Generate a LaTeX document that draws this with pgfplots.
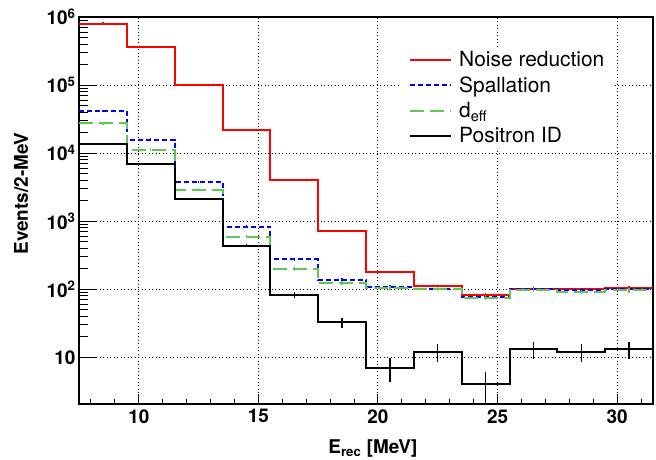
\documentclass[border=0pt]{standalone}
\usepackage{pgfplots}
\pgfplotsset{compat=1.18}
\usepackage{fontspec}
\setmainfont{TeX Gyre Heros}
\definecolor{rred}{RGB}{255,0,0}
\definecolor{bblue}{RGB}{0,0,255}
\definecolor{ggreen}{RGB}{94,200,80}
\begin{document}
\begin{tikzpicture}
\begin{axis}[
  scale only axis,
  width=574bp, height=387bp,
  xmin=7.5, xmax=31.5,
  ymode=log, ymin=2.06, ymax=1e6,
  xtick={10,15,20,25,30},
  xticklabels={10,15,20,25,30},
  minor xtick={8,9,11,12,13,14,16,17,18,19,21,22,23,24,26,27,28,29,31},
  ytick={10,100,1000,10000,100000,1000000},
  yticklabels={10,10\textsuperscript{2},10\textsuperscript{3},10\textsuperscript{4},10\textsuperscript{5},10\textsuperscript{6}},
  tick align=inside,
  xtick pos=bottom, ytick pos=left,
  xtick style={/pgfplots/major tick length=10bp,/pgfplots/minor tick length=5bp, line width=1bp, black},
  ytick style={/pgfplots/major tick length=17bp,/pgfplots/minor tick length=9bp, line width=1bp, black},
  grid=major,
  grid style={black, line width=1bp, dash pattern=on 1bp off 2.5bp},
  axis line style={line width=1.6bp},
  tick label style={font=\bfseries\fontsize{19}{19}\selectfont},
  xticklabel style={yshift=-2bp},
  xlabel={E\textsubscript{rec} [MeV]},
  ylabel={Events/2-MeV},
  label style={font=\bfseries\fontsize{19}{19}\selectfont},
  xlabel style={at={(axis description cs:0.512,-0.128)}, anchor=base},
  ylabel style={at={(axis description cs:-0.101,0.544)}, anchor=center},
  legend style={at={(axis description cs:0.561,0.922)}, anchor=north west,
    draw=none, fill=white, font=\fontsize{21}{25}\selectfont,
    cells={anchor=west}, inner xsep=8bp, inner ysep=2bp, row sep=4.5bp},
  legend image code/.code={\draw[#1] (0bp,0bp) -- (41bp,0bp); \path (46bp,0bp);},
  const plot mark left,
]
\addplot[rred, line width=2bp, mark=none] coordinates {
(7.5,8.0e5) (9.5,3.6e5) (11.5,1.0e5) (13.5,2.2e4) (15.5,4.0e3) (17.5,720)
(19.5,180) (21.5,112) (23.5,83) (25.5,102) (27.5,100) (29.5,105) (31.5,105)};
\addlegendentry{Noise reduction}
\addplot[bblue, line width=2bp, mark=none, dash pattern=on 5bp off 3bp] coordinates {
(7.5,4.2e4) (9.5,1.58e4) (11.5,3.75e3) (13.5,834) (15.5,276) (17.5,138)
(19.5,109) (21.5,102) (23.5,76) (25.5,100) (27.5,99) (29.5,100) (31.5,100)};
\addlegendentry{Spallation}
\addplot[ggreen, line width=2bp, mark=none, dash pattern=on 14bp off 6bp] coordinates {
(7.5,2.76e4) (9.5,1.12e4) (11.5,2.88e3) (13.5,594) (15.5,197) (17.5,125)
(19.5,104) (21.5,100) (23.5,75) (25.5,98) (27.5,91) (29.5,96) (31.5,96)};
\addlegendentry{d\textsubscript{eff}}
\addplot[black, line width=2bp, mark=none] coordinates {
(7.5,1.37e4) (9.5,6.97e3) (11.5,2.15e3) (13.5,437) (15.5,83) (17.5,32.7)
(19.5,7.0) (21.5,12.1) (23.5,4.0) (25.5,13.1) (27.5,12.1) (29.5,13.1) (31.5,13.1)};
\addlegendentry{Positron ID}
% error bars
\addplot[forget plot, draw=none, mark=none,
  error bars/.cd, y dir=both, y explicit, error mark=none,
  error bar style={draw=rred, solid, line width=1.2bp}] coordinates {
(8.5,8.0e5) +- (0,3.2e4) (10.5,3.6e5) +- (0,1.4e4) (12.5,1.0e5) +- (0,4e3)
(14.5,2.2e4) +- (0,900) (16.5,4.0e3) +- (0,160) (18.5,720) +- (0,29)
(20.5,180) +- (0,7) (22.5,112) +- (0,5) (24.5,83) +- (0,4) (26.5,102) +- (0,5)
(28.5,100) +- (0,5) (30.5,105) +- (0,5)};
\addplot[forget plot, draw=none, mark=none,
  error bars/.cd, y dir=both, y explicit, error mark=none,
  error bar style={draw=bblue, solid, line width=1.2bp}] coordinates {
(8.5,4.2e4) +- (0,1.7e3) (10.5,1.58e4) +- (0,630) (12.5,3.75e3) +- (0,150)
(14.5,834) +- (0,35) (16.5,276) +- (0,12) (18.5,138) +- (0,7)
(20.5,109) +- (0,6) (22.5,102) +- (0,6) (24.5,76) +- (0,5) (26.5,100) +- (0,6)
(28.5,99) +- (0,6) (30.5,100) +- (0,6)};
\addplot[forget plot, draw=none, mark=none,
  error bars/.cd, y dir=both, y explicit, error mark=none,
  error bar style={draw=ggreen, solid, line width=1.2bp}] coordinates {
(8.5,2.76e4) +- (0,1.4e3) (10.5,1.12e4) +- (0,560) (12.5,2.88e3) +- (0,150)
(14.5,594) +- (0,35) (16.5,197) +- (0,14) (18.5,125) +- (0,9)
(20.5,104) +- (0,7) (22.5,100) +- (0,7) (24.5,75) +- (0,6) (26.5,98) +- (0,7)
(28.5,91) +- (0,7) (30.5,96) +- (0,7)};
\addplot[forget plot, draw=none, mark=none,
  error bars/.cd, y dir=both, y explicit, error mark=none,
  error bar style={draw=black, solid, line width=1.2bp}] coordinates {
(8.5,1.37e4) +- (0,117) (10.5,6.97e3) +- (0,83) (12.5,2.15e3) +- (0,46)
(14.5,437) +- (0,21) (16.5,83) +- (0,9.1) (18.5,32.7) +- (0,5.7)
(20.5,7.0) +- (0,2.65) (22.5,12.1) +- (0,3.5) (24.5,4.0) +- (0,2.0) (26.5,13.1) +- (0,3.6)
(28.5,12.1) +- (0,3.5) (30.5,13.1) +- (0,3.6)};
\end{axis}
\pgfresetboundingbox
\path[use as bounding box] (-79bp,-56bp) rectangle (577bp,404bp);
\end{tikzpicture}
\end{document}
